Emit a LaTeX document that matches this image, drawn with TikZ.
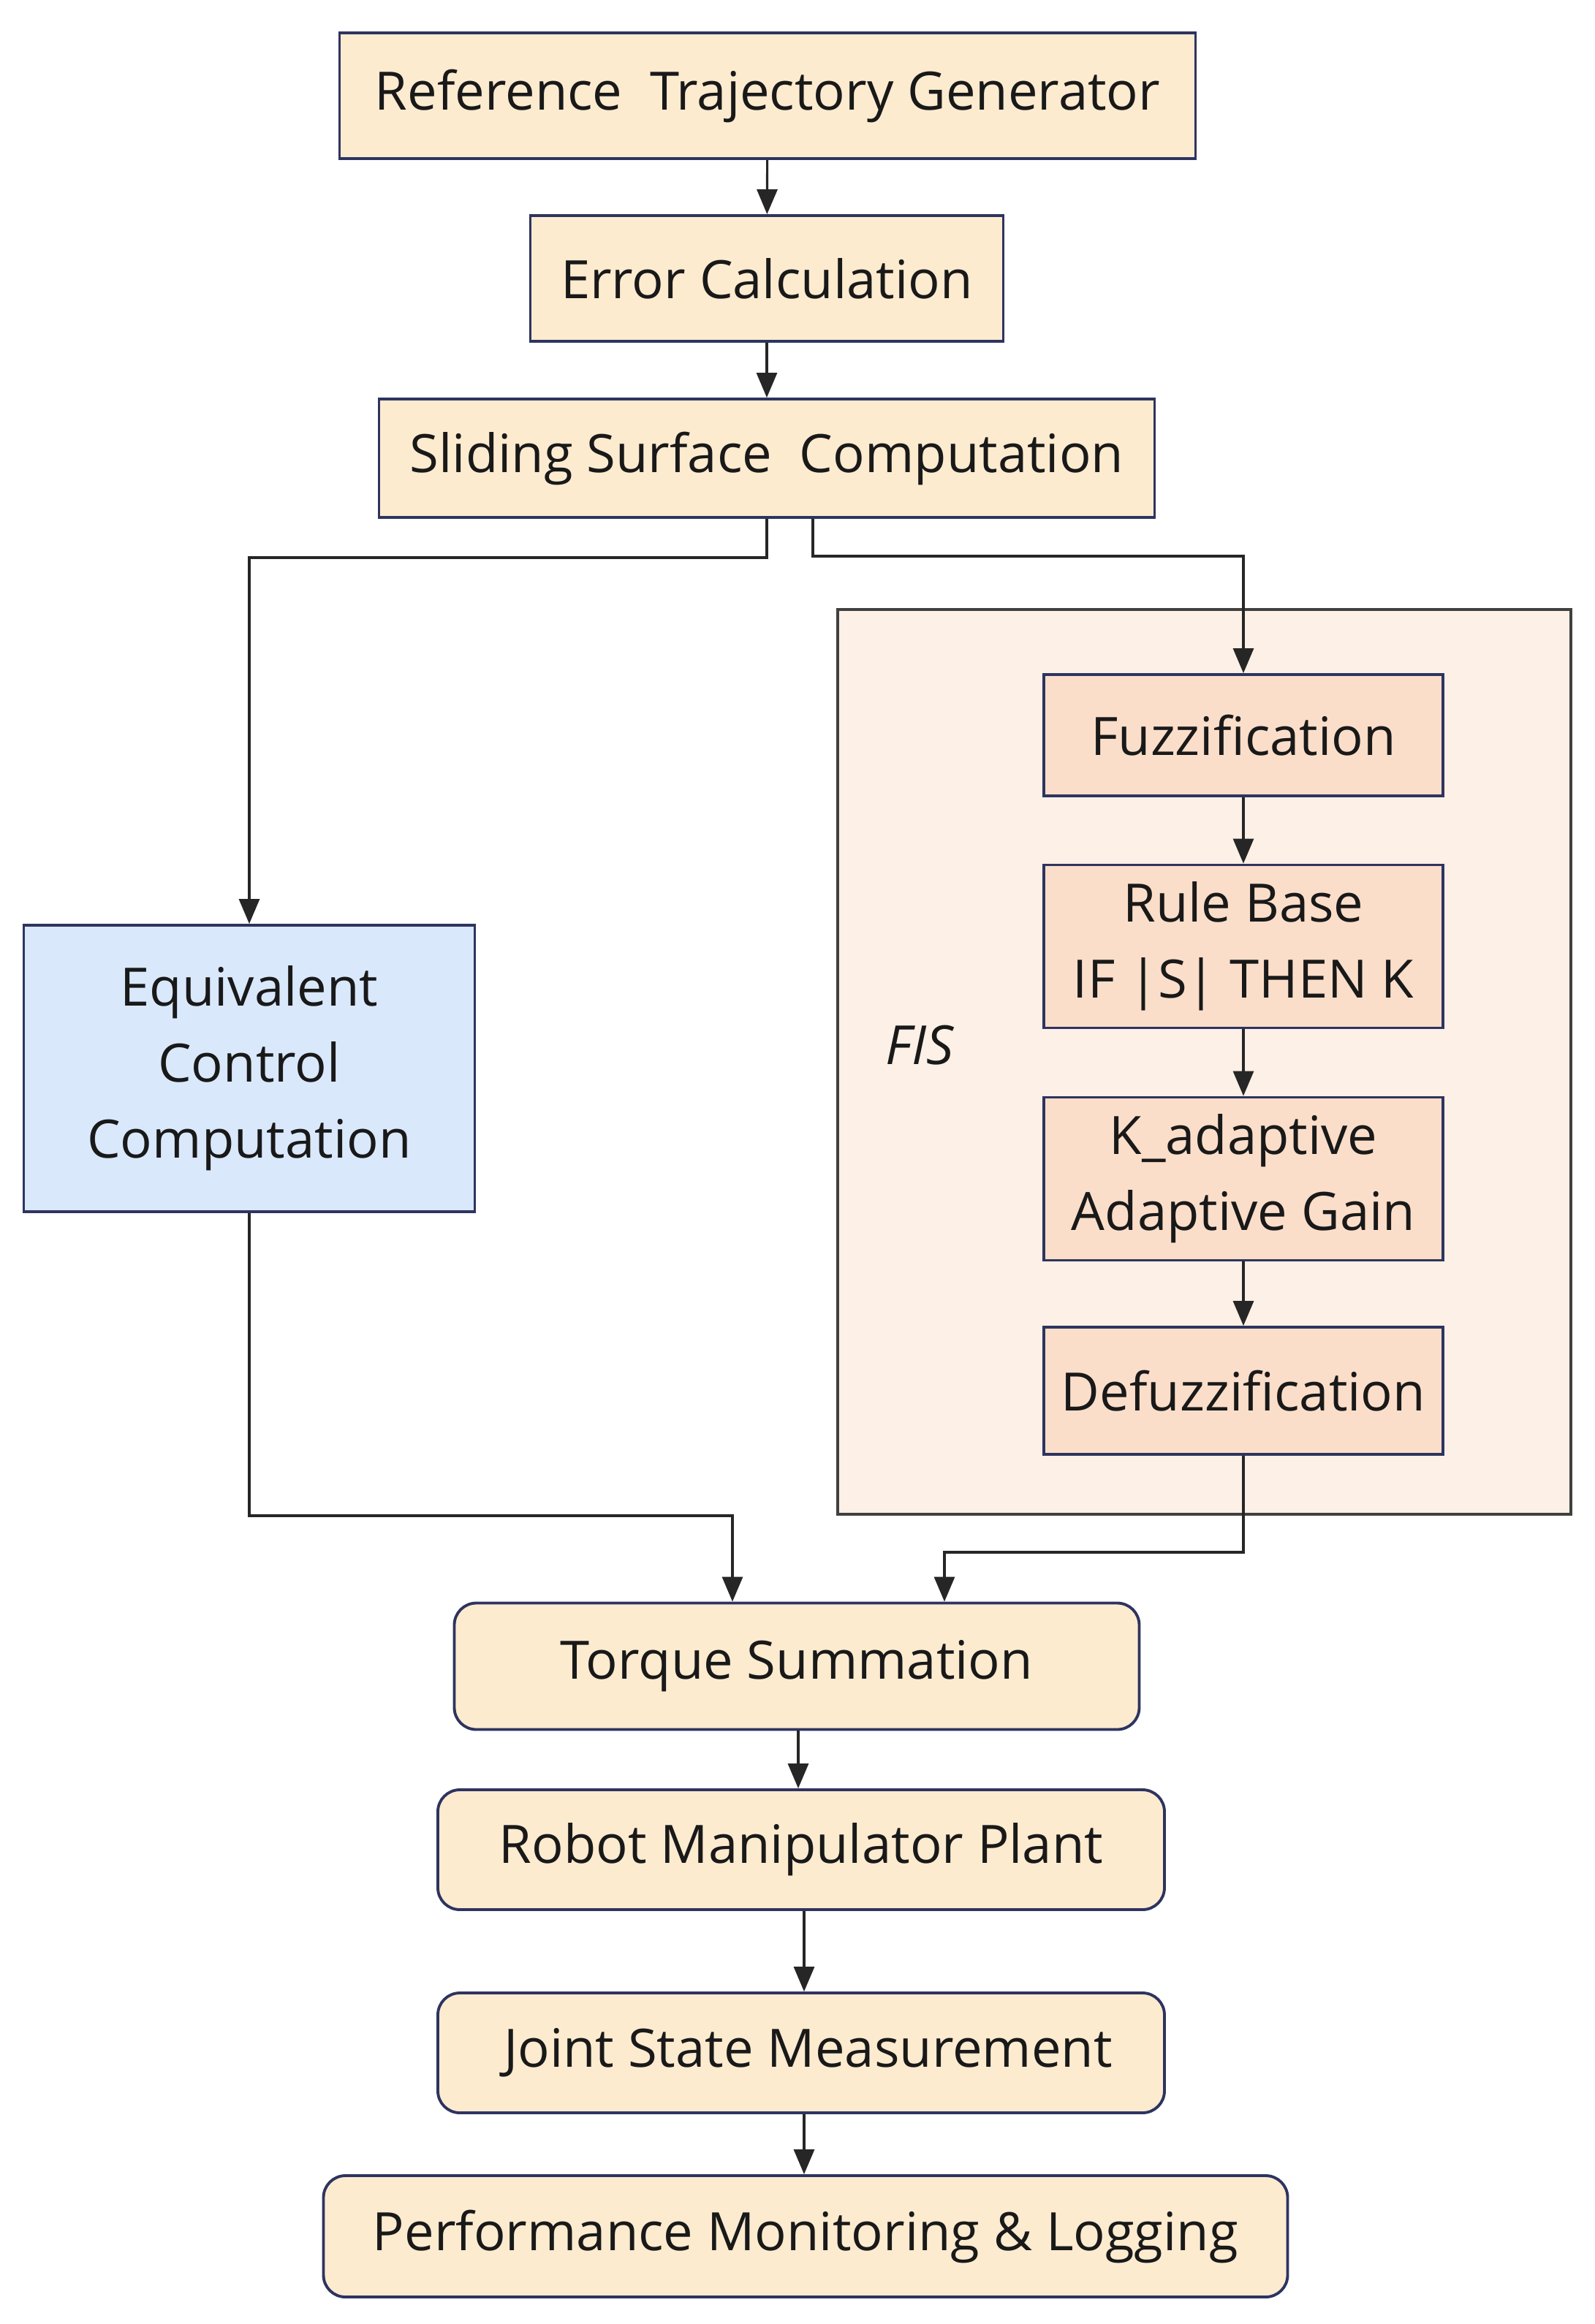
\documentclass[tikz,border=0pt]{standalone}
\usepackage{fontspec}
\setmainfont{Open Sans}
\usepackage{tikz}
\usetikzlibrary{arrows.meta,calc}
\definecolor{stepfill}{RGB}{253,235,208}
\definecolor{fisback}{RGB}{253,240,230}
\definecolor{fisfill}{RGB}{251,222,202}
\definecolor{eqfill}{RGB}{218,232,252}
\definecolor{boxline}{RGB}{46,52,96}

\begin{document}
\begin{tikzpicture}[>={Triangle[length=3.4mm,width=2.8mm]},
  every node/.style={font=\fontsize{20.6}{29.6}\selectfont,text=black!90},
  block/.style={draw=boxline,line width=1.1pt,fill=stepfill,align=center,
    inner sep=0pt},
  fisblock/.style={block,fill=fisfill,minimum width=5.46cm},
  tall/.style={block,rounded corners=0.3cm},
  link/.style={->,line width=0.9pt,black!85}]
\useasboundingbox (0,0) rectangle (21.81,-31.80);
% FIS container
\node[draw=black!75,line width=1pt,fill=fisback,minimum width=10.03cm,
  minimum height=12.38cm,inner sep=0pt] (fis) at (16.475,-14.53) {};
\node[font=\fontsize{21}{29.6}\selectfont\itshape] (fislabel) at (12.58,-14.30) {FIS};
% main chain
\node[block,minimum width=11.71cm,minimum height=1.72cm] (ref) at (10.50,-1.31)
  {Reference~ Trajectory Generator};
\node[block,minimum width=6.47cm,minimum height=1.72cm] (err) at (10.49,-3.81)
  {Error Calculation};
\node[block,minimum width=10.61cm,minimum height=1.62cm] (ss) at (10.49,-6.27)
  {Sliding Surface~ Computation};
% fuzzy branch
\node[fisblock,minimum height=1.66cm] (fuzz) at (17.01,-10.06) {Fuzzification};
\node[fisblock,minimum height=2.23cm] (rule) at (17.01,-12.95)
  {Rule Base\\IF |S| THEN K};
\node[fisblock,minimum height=2.23cm] (gain) at (17.01,-16.13)
  {K\_adaptive\\Adaptive Gain};
\node[fisblock,minimum height=1.74cm] (defuzz) at (17.01,-19.03) {Defuzzification};
% equivalent control
\node[block,fill=eqfill,minimum width=6.17cm,minimum height=3.92cm] (eq) at (3.41,-14.62)
  {Equivalent\\Control\\Computation};
% lower chain
\node[tall,minimum width=9.37cm,minimum height=1.73cm] (tq) at (10.90,-22.80)
  {Torque Summation};
\node[tall,minimum width=9.94cm,minimum height=1.64cm] (plant) at (10.96,-25.31)
  {Robot Manipulator Plant};
\node[tall,minimum width=9.94cm,minimum height=1.64cm] (meas) at (10.96,-28.09)
  {~Joint State Measurement};
\node[tall,minimum width=13.19cm,minimum height=1.66cm] (perf) at (11.02,-30.60)
  {Performance Monitoring \& Logging};
% connectors
\draw[link] (ref) -- (err);
\draw[link] (err) -- (ss);
\draw[link] (ss.south) -- ++(0,-0.53) -| (eq.north);
\draw[link] ([xshift=0.63cm]ss.south) -- ++(0,-0.51) -| (fuzz.north);
\draw[link] (fuzz) -- (rule);
\draw[link] (rule) -- (gain);
\draw[link] (gain) -- (defuzz);
\draw[link] (eq.south) -- ++(0,-4.14) -| ([xshift=-0.88cm]tq.north);
\draw[link] (defuzz.south) -- ++(0,-1.32) -| ([xshift=2.02cm]tq.north);
\draw[link] ([xshift=0.02cm]tq.south) -- ([xshift=0.02cm]tq.south |- plant.north);
\draw[link] ([xshift=0.04cm]plant.south) -- ([xshift=0.04cm]plant.south |- meas.north);
\draw[link] ([xshift=0.04cm]meas.south) -- ([xshift=0.04cm]meas.south |- perf.north);
\end{tikzpicture}
\end{document}
